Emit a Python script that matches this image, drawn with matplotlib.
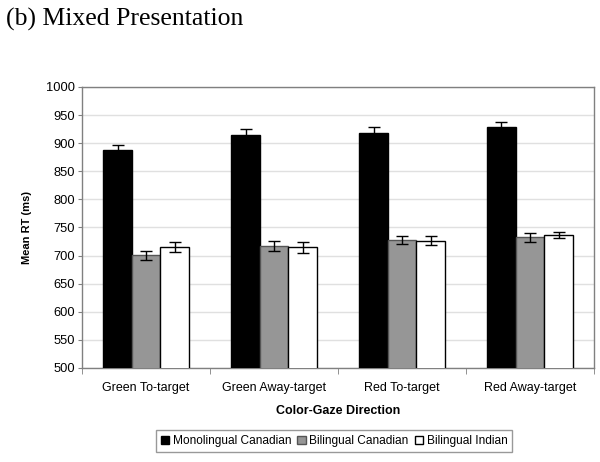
import matplotlib
matplotlib.use("Agg")
import matplotlib.pyplot as plt
import numpy as np

categories = ["Green To-target", "Green Away-target", "Red To-target", "Red Away-target"]
series_names = ["Monolingual Canadian", "Bilingual Canadian", "Bilingual Indian"]
mono = [887, 915, 918, 929]
mono_err = [10, 10, 10, 8]
bican = [701, 717, 728, 733]
bican_err = [8, 9, 7, 8]
biind = [715, 715, 726, 737]
biind_err = [9, 10, 8, 5]
yticks = list(range(500, 1001, 50))

plt.rcParams['font.family'] = ['Liberation Sans', 'DejaVu Sans']

fig = plt.figure(figsize=(6.0, 4.62), dpi=100)
ax = fig.add_axes([0.137, 0.2035, 0.853, 0.6082])

x = np.arange(len(categories))
w = 0.223
values = [mono, bican, biind]
errs = [mono_err, bican_err, biind_err]
faces = ["#000000", "#969696", "#ffffff"]
edges = ["#000000", "#555555", "#000000"]
for i in range(3):
    ax.bar(x + (i - 1) * w, values[i], width=w, bottom=0, color=faces[i],
           edgecolor=edges[i], linewidth=1.0, label=series_names[i], zorder=3)
    ax.errorbar(x + (i - 1) * w, values[i], yerr=errs[i], fmt='none',
                ecolor='black', elinewidth=1.0, capsize=4, capthick=1.0, zorder=4)

ax.set_xlim(-0.5, len(categories) - 0.5)
ax.set_ylim(500, 1000)
ax.set_yticks(yticks)
ax.set_yticklabels([str(t) for t in yticks], fontsize=9.3)
ax.set_xticks(x)
ax.set_xticklabels(categories, fontsize=9)
ax.tick_params(axis='x', length=0, pad=10)
ax.set_xticks(np.arange(-0.5, len(categories), 1.0), minor=True)
ax.tick_params(axis='x', which='minor', length=4, color='#808080', direction='out')
ax.tick_params(axis='y', length=3, color='#808080', direction='out', pad=2)

ax.grid(axis='y', color='#e0e0e0', linewidth=1.0, zorder=0)
for s in ['left', 'bottom', 'right', 'top']:
    ax.spines[s].set_color('#808080')
    ax.spines[s].set_linewidth(1.0)

ax.set_xlabel("Color-Gaze Direction", fontsize=9, fontweight='bold', labelpad=8)
ax.set_ylabel("Mean RT (ms)", fontsize=8, fontweight='bold', labelpad=10)

fig.text(0.01, 0.958, "(b) Mixed Presentation", fontsize=18.5,
         family=['Liberation Serif', 'DejaVu Serif'], va='center', ha='left')

leg = fig.legend(loc='center', bbox_to_anchor=(0.557, 0.045), ncol=3, fontsize=8.6,
                 frameon=True, fancybox=False, edgecolor='#808080',
                 handlelength=0.7, handleheight=0.7, handletextpad=0.3,
                 columnspacing=0.5, borderpad=0.4)
leg.get_frame().set_linewidth(1.0)

fig.savefig("out.png", dpi=100)
